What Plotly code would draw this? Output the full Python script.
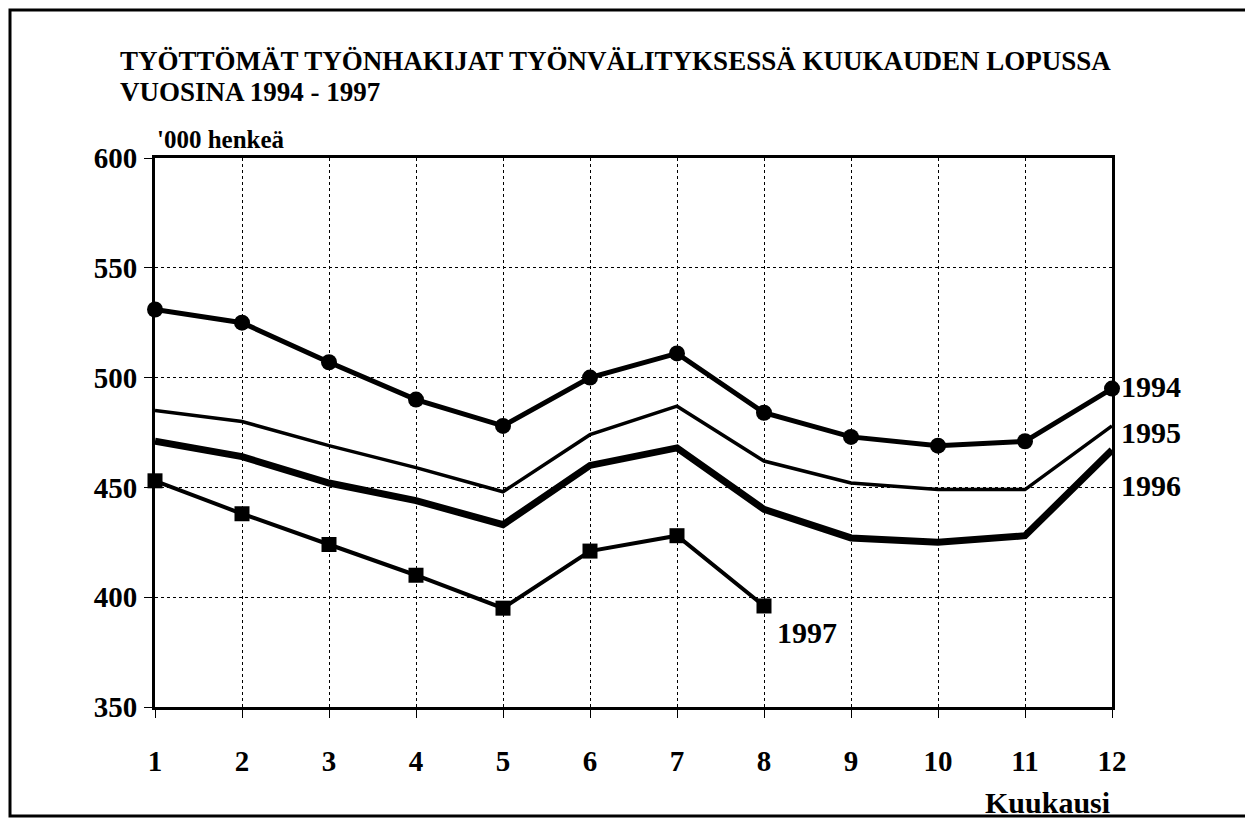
import plotly.graph_objects as go

months = list(range(1, 13))
y1994 = [531, 525, 507, 490, 478, 500, 511, 484, 473, 469, 471, 495]
y1995 = [485, 480, 469, 459, 448, 474, 487, 462, 452, 449, 449, 478]
y1996 = [471, 464, 452, 444, 433, 460, 468, 440, 427, 425, 428, 467]
y1997 = [453, 438, 424, 410, 395, 421, 428, 396]
months1997 = months[:len(y1997)]
ytick_vals = [350, 400, 450, 500, 550, 600]

FONT = "Liberation Serif, Times New Roman, serif"

# plot area in figure pixel coordinates (page has an 8px body margin)
L, R, T, B = 147, 1104, 150, 699
W, H = R - L, B - T

def px(x):
    return (x - L) / W

def py(y):
    return (B - y) / H

fig = go.Figure()
fig.add_trace(go.Scatter(x=months, y=y1995, mode="lines",
                         line=dict(color="black", width=3.5), name="1995"))
fig.add_trace(go.Scatter(x=months, y=y1996, mode="lines",
                         line=dict(color="black", width=7), name="1996"))
fig.add_trace(go.Scatter(x=months, y=y1994, mode="lines+markers",
                         line=dict(color="black", width=5),
                         marker=dict(symbol="circle", size=16, color="black"),
                         name="1994", cliponaxis=False))
fig.add_trace(go.Scatter(x=months1997, y=y1997, mode="lines+markers",
                         line=dict(color="black", width=4),
                         marker=dict(symbol="square", size=15, color="black"),
                         name="1997", cliponaxis=False))

fig.update_layout(
    width=1253, height=822,
    margin=dict(l=L, r=1253 - R, t=T, b=822 - B),
    paper_bgcolor="white", plot_bgcolor="white",
    showlegend=False,
    font=dict(family=FONT, color="black"),
    xaxis=dict(range=[1, 12], tickvals=months, ticktext=[str(m) for m in months],
               showgrid=True, gridcolor="black", griddash="dot", gridwidth=1,
               showline=True, linecolor="black", linewidth=3, mirror=True,
               ticks="outside", ticklen=8, tickcolor="black", tickwidth=1,
               tickfont=dict(size=29, family=FONT, weight="bold"),
               zeroline=False, ticklabelstandoff=18),
    yaxis=dict(range=[350, 600], tickvals=ytick_vals,
               showgrid=True, gridcolor="black", griddash="dot", gridwidth=1,
               showline=True, linecolor="black", linewidth=3, mirror=True,
               ticks="outside", ticklen=8, tickcolor="black", tickwidth=1,
               tickfont=dict(size=29, family=FONT, weight="bold"),
               zeroline=False, ticklabelstandoff=1),
)

# Outer frame
fig.add_shape(type="rect", xref="paper", yref="paper",
              x0=px(2), x1=px(1242), y0=py(808), y1=py(2),
              line=dict(color="black", width=3))

def bold(size):
    return dict(family=FONT, size=size, color="black", weight="bold")

fig.add_annotation(text="TYÖTTÖMÄT TYÖNHAKIJAT TYÖNVÄLITYKSESSÄ KUUKAUDEN LOPUSSA",
                   xref="paper", yref="paper", x=px(110), y=py(53),
                   xanchor="left", yanchor="middle", showarrow=False, font=bold(27))
fig.add_annotation(text="VUOSINA 1994 - 1997",
                   xref="paper", yref="paper", x=px(110), y=py(84),
                   xanchor="left", yanchor="middle", showarrow=False, font=bold(27))
fig.add_annotation(text="'000 henkeä", xref="paper", yref="paper",
                   x=px(147), y=py(132), xanchor="left", yanchor="middle",
                   showarrow=False, font=bold(25))
fig.add_annotation(text="Kuukausi", xref="paper", yref="paper",
                   x=px(1104), y=py(794), xanchor="right", yanchor="middle",
                   showarrow=False, font=bold(30))

lbl = dict(showarrow=False, xanchor="left", yanchor="middle", font=bold(30))
fig.add_annotation(text="1994", x=12, y=y1994[-1] + 1, xshift=7, **lbl)
fig.add_annotation(text="1995", x=12, y=y1995[-1] - 3, xshift=7, **lbl)
fig.add_annotation(text="1996", x=12, y=y1996[-1] - 16, xshift=7, **lbl)
fig.add_annotation(text="1997", x=8, y=y1997[-1] - 12, xshift=11, **lbl)

fig.write_html("out.html")
